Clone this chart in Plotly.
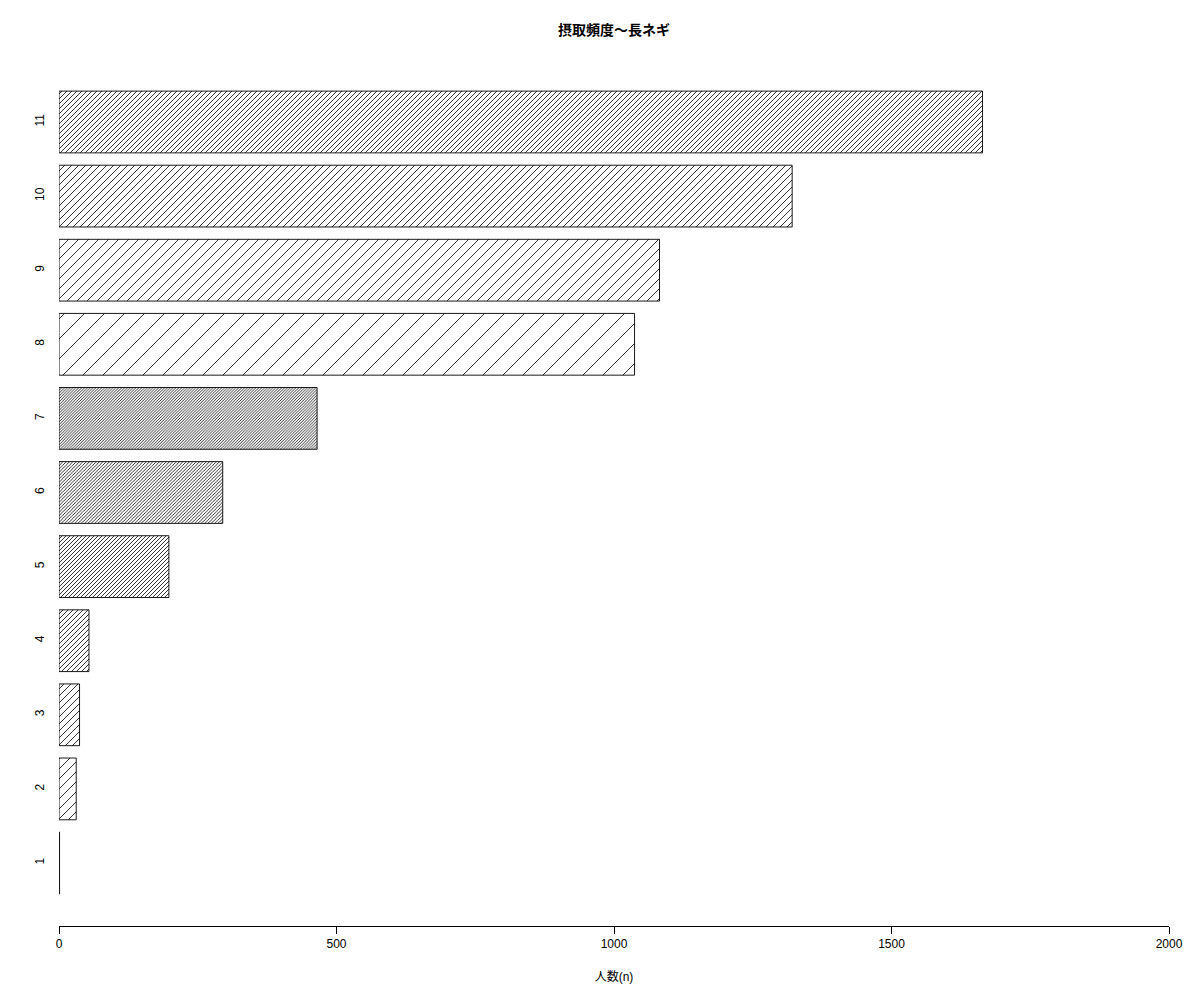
import math
import plotly.graph_objects as go

categories = ["1", "2", "3", "4", "5", "6", "7", "8", "9", "10", "11"]
counts = [1, 31, 37, 54, 198, 295, 465, 1037, 1082, 1321, 1664]
x_ticks = [0, 500, 1000, 1500, 2000]
title_text = "摂取頻度〜長ネギ"
x_title = "人数(n)"

# hatch densities (lines per unit), recycled as in the original
hatch_density = [5, 10, 15, 20, 25, 30, 35, 5, 10, 15, 20]


def tile_width(d):
    w = 100.0 / d
    return float(round(w)) if w > 5 else w


# plotly's "/" tile is size*sqrt(2) wide; line width = solidity*size
pat_size = [tile_width(d) / math.sqrt(2) for d in hatch_density]
pat_solidity = [min(0.6, 0.8 / s) for s in pat_size]

FONT = "Liberation Sans, Arial, Noto Sans CJK JP, sans-serif"
OFF = 8  # page offset compensation

fig = go.Figure()
fig.add_trace(go.Bar(
    y=categories,
    x=counts,
    orientation="h",
    marker=dict(
        color="white",
        line=dict(color="black", width=0.9),
        pattern=dict(shape="/", fgcolor="black", bgcolor="white",
                     size=pat_size, solidity=pat_solidity, fillmode="replace"),
    ),
    showlegend=False,
))

fig.update_layout(
    width=1200, height=1000,
    paper_bgcolor="white", plot_bgcolor="white",
    margin=dict(l=59 - OFF, r=31 + OFF, t=59 - OFF, b=74 + OFF),
    bargap=0.2 / 1.2,
    title=dict(text="<b>" + title_text + "</b>", x=(59 + 1169) / 2 / 1200 - OFF / 1200, xanchor="center",
               y=1 - (30 - OFF) / 1000, yanchor="middle",
               font=dict(family="Liberation Sans, Noto Sans CJK JP, sans-serif", size=14, color="black")),
    font=dict(family=FONT, size=12, color="black"),
)

fig.update_xaxes(
    range=[0, 2000],
    tickvals=x_ticks,
    ticktext=[str(v) for v in x_ticks],
    showgrid=False, zeroline=False,
    showline=True, linecolor="black", linewidth=1,
    ticks="outside", ticklen=7, tickcolor="black", tickwidth=1,
    tickfont=dict(size=12, family=FONT),
    title=dict(text=x_title, font=dict(size=12, family="Liberation Sans, Noto Sans CJK JP, sans-serif"), standoff=22),
)

fig.update_yaxes(
    type="category",
    categoryorder="array", categoryarray=categories,
    range=[-0.85, 10.85],
    showgrid=False, zeroline=False, showline=False,
    ticks="", tickangle=-90,
    tickfont=dict(size=12, family=FONT),
    ticklabelstandoff=12,
)

fig.write_html("out.html")
